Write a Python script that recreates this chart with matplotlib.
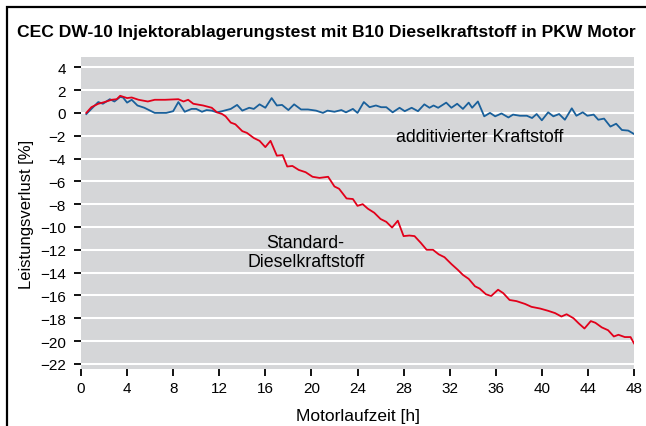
import matplotlib
matplotlib.use("Agg")
import matplotlib.pyplot as plt
from matplotlib.patches import Rectangle
import numpy as np

plt.rcParams["font.family"] = ["Liberation Sans", "DejaVu Sans"]

# ---- data ----
t_additiv = [0.46, 1.05, 1.5, 1.9, 2.5, 2.9, 3.4, 3.65, 4.0, 4.4,
             4.9, 5.5, 6.4, 7.4, 8.0, 8.45, 9.0, 9.6, 10.0, 10.5,
             10.9, 11.35, 11.8, 12.25, 13.0, 13.55, 14.0, 14.6, 15.0, 15.5,
             16.0, 16.55, 17.0, 17.45, 18.0, 18.5, 19.1, 19.7, 20.4, 21.0,
             21.4, 22.0, 22.6, 23.0, 23.6, 24.0, 24.55, 25.05, 25.6, 26.05,
             26.5, 27.05, 27.65, 28.1, 28.7, 29.25, 29.8, 30.25, 30.6, 31.0,
             31.7, 32.15, 32.65, 33.15, 33.65, 33.95, 34.45, 35.0, 35.5, 35.95,
             36.5, 37.1, 37.5, 38.1, 38.7, 39.15, 39.55, 40.0, 40.55, 41.0,
             41.5, 42.0, 42.6, 43.0, 43.55, 43.95, 44.5, 44.9, 45.4, 45.95,
             46.45, 46.95, 47.5, 48.0]
v_additiv = [-0.1, 0.5, 0.95, 0.8, 1.2, 1.0, 1.4, 1.35, 0.9, 1.15,
             0.65, 0.45, 0.0, 0.0, 0.15, 0.95, 0.1, 0.35, 0.35, 0.1,
             0.25, 0.2, 0.05, 0.15, 0.35, 0.7, 0.2, 0.45, 0.35, 0.75,
             0.45, 1.3, 0.65, 0.7, 0.25, 0.75, 0.3, 0.3, 0.2, 0.0,
             0.2, 0.1, 0.25, 0.05, 0.35, 0.0, 0.95, 0.5, 0.65, 0.5,
             0.5, 0.05, 0.45, 0.15, 0.45, 0.15, 0.75, 0.45, 0.65, 0.45,
             0.9, 0.45, 0.8, 0.35, 0.9, 0.45, 1.0, -0.3, 0.0, -0.3,
             -0.05, -0.4, -0.15, -0.25, -0.25, -0.45, -0.1, -0.65, 0.05, -0.3,
             -0.1, -0.6, 0.4, -0.25, 0.05, -0.25, -0.15, -0.6, -0.5, -1.2,
             -0.95, -1.5, -1.55, -1.85]

t_standard = [0.46, 0.9, 1.5, 2.05, 2.65, 3.1, 3.4, 4.0, 4.4, 5.0,
              5.8, 6.4, 7.3, 8.45, 8.9, 9.3, 9.75, 10.6, 11.35, 11.8,
              12.25, 12.55, 13.0, 13.4, 14.0, 14.4, 15.0, 15.5, 16.0, 16.45,
              17.0, 17.5, 17.9, 18.35, 18.9, 19.5, 20.1, 20.7, 21.45, 22.0,
              22.4, 23.05, 23.6, 24.0, 24.45, 24.9, 25.45, 26.0, 26.5, 27.0,
              27.5, 28.0, 28.5, 28.95, 29.5, 30.0, 30.55, 31.05, 31.55, 32.15,
              32.7, 33.15, 33.65, 34.2, 34.6, 35.15, 35.6, 36.2, 36.65, 37.2,
              37.8, 38.55, 39.1, 39.85, 40.55, 41.15, 41.7, 42.15, 42.75, 43.2,
              43.7, 44.25, 44.65, 45.2, 45.75, 46.25, 46.65, 47.2, 47.7, 48.0]
v_standard = [0.0, 0.5, 0.8, 0.95, 1.15, 1.2, 1.5, 1.3, 1.35, 1.15,
              1.0, 1.15, 1.15, 1.2, 1.0, 1.15, 0.8, 0.65, 0.45, 0.05,
              -0.1, -0.3, -0.85, -1.0, -1.6, -1.75, -2.2, -2.45, -3.0, -2.45,
              -3.75, -3.7, -4.7, -4.65, -5.0, -5.2, -5.6, -5.7, -5.6, -6.45,
              -6.65, -7.5, -7.55, -8.15, -8.0, -8.4, -8.75, -9.3, -9.55, -10.05,
              -9.45, -10.8, -10.75, -10.8, -11.4, -12.0, -12.0, -12.4, -12.65, -13.25,
              -13.75, -14.2, -14.55, -15.2, -15.4, -15.9, -16.05, -15.5, -15.8, -16.4,
              -16.5, -16.75, -17.0, -17.15, -17.35, -17.55, -17.85, -17.65, -18.0, -18.45,
              -18.9, -18.25, -18.4, -18.8, -19.05, -19.6, -19.45, -19.65, -19.65, -20.2]

x_ticks = list(range(0, 49, 4))
y_ticks = list(range(-22, 5, 2))

RED = "#e2001a"
BLUE = "#19609b"
GRAY = "#d5d6d8"

fig = plt.figure(figsize=(6.46, 4.27), dpi=100)

# outer frame
fig.patches.append(Rectangle((7 / 646, -0.05), 1.2, 1 - 8 / 427 + 0.05,
                             transform=fig.transFigure, fill=False,
                             edgecolor="black", linewidth=1.6))

fig.text(17 / 646, 1 - 33 / 427, "CEC DW-10 Injektorablagerungstest mit B10 Dieselkraftstoff in PKW Motor",
         fontsize=12.6, fontweight="bold", ha="left", va="center")

ax = fig.add_axes([81 / 646, 1 - 370 / 427, 553 / 646, 312 / 427])
ax.set_facecolor(GRAY)
for s in ax.spines.values():
    s.set_visible(False)

for y in y_ticks:
    ax.axhline(y, color="white", linewidth=1.5, zorder=1)

ax.plot(t_additiv, v_additiv, color=BLUE, linewidth=1.3, zorder=3)
ax.plot(t_standard, v_standard, color=RED, linewidth=1.3, zorder=3)

ax.set_xlim(0, 48)
ax.set_ylim(-22.45, 4.9)
ax.set_xticks(x_ticks)
ax.set_yticks(y_ticks)
ax.tick_params(direction="out", length=5, width=1.3, color="black",
               labelsize=11, pad=4)
ax.tick_params(axis="y", pad=6)

ax.text(27.35, -2.05, "additivierter Kraftstoff", fontsize=12.8,
        ha="left", va="center", zorder=4)
ax.text(19.5, -12.2, "Standard-\nDieselkraftstoff", fontsize=12.8,
        ha="center", va="center", linespacing=1.15, zorder=4)

ax.set_xlabel("Motorlaufzeit [h]", fontsize=12.5, labelpad=9)
ax.set_ylabel("Leistungsverlust [%]", fontsize=12, labelpad=4)

fig.savefig("out.png", dpi=100)
